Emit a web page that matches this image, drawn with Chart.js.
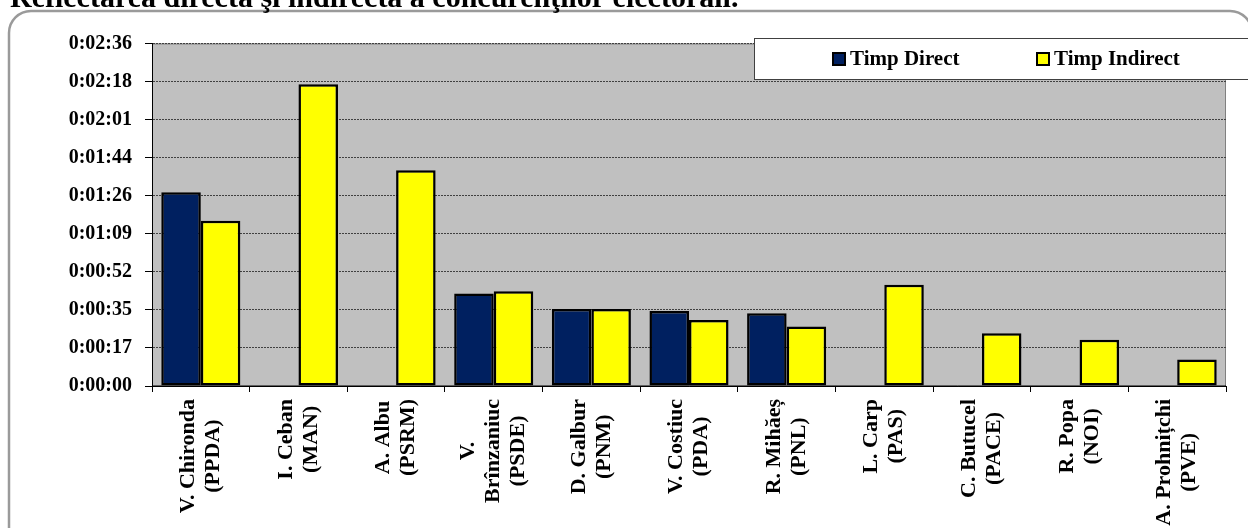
<!DOCTYPE html>
<html><head><meta charset="utf-8">
<script src="https://cdn.jsdelivr.net/npm/chart.js@4"></script>
<style>html,body{margin:0;padding:0;background:#fff;overflow:hidden}#wrap{position:relative;width:1248px;height:528px}</style>
</head><body><div id="wrap"><canvas id="c" width="1248" height="528"></canvas></div>
<script>
const chartTitle = 'Reflectarea directă şi indirectă a concurenţilor electorali.';
const categories = [
  ['V. Chironda', '(PPDA)'],
  ['I. Ceban', '(MAN)'],
  ['A. Albu', '(PSRM)'],
  ['V.', 'Brînzaniuc', '(PSDE)'],
  ['D. Galbur', '(PNM)'],
  ['V. Costiuc', '(PDA)'],
  ['R. Mihăeș', '(PNL)'],
  ['L. Carp', '(PAS)'],
  ['C. Butucel', '(PACE)'],
  ['R. Popa', '(NOI)'],
  ['A. Prohnițchi', '(PVE)']
];
const seriesNames = ['Timp Direct', 'Timp Indirect'];
// seconds
const timpDirect   = [88, null, null, 42, 35, 34, 33, null, null, null, null];
const timpIndirect = [75, 137, 98, 43, 35, 30, 27, 46, 24, 21, 12];
const yTickValues = [0, 17.28, 34.56, 51.84, 69.12, 86.4, 103.68, 120.96, 138.24, 155.52];
const yTickLabels = ['0:00:00', '0:00:17', '0:00:35', '0:00:52', '0:01:09', '0:01:26', '0:01:44', '0:02:01', '0:02:18', '0:02:36'];

const FAM = '"Liberation Serif", "Times New Roman", serif';

function rrect(ctx, x, y, w, h, r) {
  ctx.beginPath();
  ctx.moveTo(x + r, y);
  ctx.lineTo(x + w - r, y);
  ctx.arcTo(x + w, y, x + w, y + r, r);
  ctx.lineTo(x + w, y + h - r);
  ctx.arcTo(x + w, y + h, x + w - r, y + h, r);
  ctx.lineTo(x + r, y + h);
  ctx.arcTo(x, y + h, x, y + h - r, r);
  ctx.lineTo(x, y + r);
  ctx.arcTo(x, y, x + r, y, r);
  ctx.closePath();
}

const deco = {
  id: 'deco',
  beforeDraw(chart) {
    const ctx = chart.ctx, a = chart.chartArea;
    ctx.save();
    ctx.fillStyle = '#fff';
    ctx.fillRect(0, 0, chart.width, chart.height);
    ctx.strokeStyle = '#9a9a9a';
    ctx.lineWidth = 2.5;
    rrect(ctx, 9, 11, 1243, 540, 22);
    ctx.stroke();
    ctx.fillStyle = '#000';
    ctx.font = 'bold 30px ' + FAM;
    ctx.textAlign = 'left';
    ctx.textBaseline = 'alphabetic';
    ctx.fillText(chartTitle, 10, 7);
    ctx.fillStyle = '#C0C0C0';
    ctx.fillRect(a.left, a.top, a.right - a.left, a.bottom - a.top);
    ctx.strokeStyle = '#808080';
    ctx.lineWidth = 1;
    ctx.strokeRect(a.left + 0.5, a.top + 0.5, a.right - a.left - 1, a.bottom - a.top);
    ctx.restore();
  },
  afterDatasetsDraw(chart) {
    // solid axis lines (left + baseline)
    const ctx = chart.ctx, a = chart.chartArea;
    ctx.save();
    ctx.strokeStyle = '#000';
    ctx.lineWidth = 1;
    ctx.setLineDash([]);
    ctx.beginPath();
    ctx.moveTo(a.left + 0.5, a.top);
    ctx.lineTo(a.left + 0.5, a.bottom);
    ctx.lineTo(a.right, a.bottom);
    ctx.stroke();
    ctx.restore();
  },
  afterDraw(chart) {
    const ctx = chart.ctx, a = chart.chartArea, xs = chart.scales.x;
    ctx.save();
    // x labels (positions from the category scale)
    ctx.font = 'bold 22px ' + FAM;
    ctx.fillStyle = '#000';
    ctx.textAlign = 'center';
    ctx.textBaseline = 'middle';
    categories.forEach((lines, i) => {
      const cx = xs.getPixelForValue(i);
      const w = Math.max(...lines.map(l => ctx.measureText(l).width));
      const cy = a.bottom + 13 + w / 2;
      lines.forEach((l, j) => {
        const x = cx + (j - (lines.length - 1) / 2) * 25;
        ctx.save();
        ctx.translate(x, cy);
        ctx.rotate(-Math.PI / 2);
        ctx.fillText(l, 0, 0);
        ctx.restore();
      });
    });
    // legend
    ctx.fillStyle = '#fff';
    ctx.fillRect(754, 38, 510, 41);
    ctx.strokeStyle = '#404040';
    ctx.lineWidth = 1;
    ctx.strokeRect(754.5, 38.5, 510, 41);
    const mx = [833, 1037];
    ctx.font = 'bold 21px ' + FAM;
    ctx.textAlign = 'left';
    ctx.textBaseline = 'middle';
    chart.data.datasets.forEach((ds, k) => {
      ctx.fillStyle = ds.backgroundColor;
      ctx.fillRect(mx[k], 53, 12, 12);
      ctx.strokeStyle = '#000';
      ctx.lineWidth = 2;
      ctx.strokeRect(mx[k], 53, 12, 12);
      ctx.fillStyle = '#000';
      ctx.fillText(ds.label, mx[k] + 17, 60);
    });
    ctx.restore();
  }
};

new Chart(document.getElementById('c'), {
  type: 'bar',
  data: {
    labels: categories,
    datasets: [
      { label: seriesNames[0], data: timpDirect, backgroundColor: '#002060', borderColor: '#000', borderWidth: 2.5, borderSkipped: false },
      { label: seriesNames[1], data: timpIndirect, backgroundColor: '#FFFF00', borderColor: '#000', borderWidth: 2.5, borderSkipped: false }
    ]
  },
  options: {
    responsive: false,
    animation: false,
    devicePixelRatio: 1,
    layout: { padding: { top: 43.5, right: 22, left: 0, bottom: 0 } },
    datasets: { bar: { categoryPercentage: 0.81, barPercentage: 1 } },
    plugins: { legend: { display: false }, title: { display: false }, tooltip: { enabled: false } },
    scales: {
      x: {
        offset: true,
        afterFit: s => { s.height = 142; },
        ticks: { display: false },
        grid: { offset: true, drawOnChartArea: false, drawTicks: true, tickLength: 6, color: '#000', tickColor: '#000' },
        border: { color: '#000', width: 1 }
      },
      y: {
        min: 0, max: 155.52,
        afterBuildTicks: s => { s.ticks = yTickValues.map(v => ({ value: v })); },
        afterFit: s => { s.width = 152; },
        ticks: { callback: (v, i) => yTickLabels[i], font: { family: FAM, size: 20, weight: 'bold' }, color: '#000', padding: 13 },
        grid: { color: '#404040', lineWidth: 1, tickColor: '#000', tickLength: 7, tickBorderDash: [] },
        border: { color: '#000', width: 1, dash: [2, 1] }
      }
    }
  },
  plugins: [deco]
});
</script>
</body></html>
